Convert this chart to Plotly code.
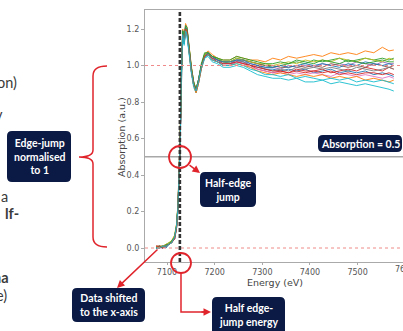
import plotly.graph_objects as go

# ---------------- data ----------------
energy_ev = [7077, 7084, 7091, 7098, 7104, 7110, 7116, 7120, 7123, 7126, 7128, 7130,
             7133, 7136, 7139, 7142, 7146, 7151, 7156, 7161, 7166, 7172, 7179, 7186,
             7195, 7206, 7218, 7232, 7246, 7260, 7275, 7290, 7306, 7322, 7338, 7355,
             7372, 7390, 7408, 7426, 7444, 7462, 7480, 7498, 7516, 7534, 7552, 7566, 7576]

mu_s01 = [0.01, 0.00, 0.01, 0.00, 0.02, 0.03, 0.05, 0.11, 0.21, 0.40, 0.60, 0.93, 1.16, 1.12, 1.19, 1.17, 1.07, 0.97, 0.89, 0.86, 0.92, 1.00, 1.05, 1.07,
          1.04, 1.03, 1.02, 1.01, 1.02, 1.02, 1.00, 0.99, 0.98, 0.98, 0.97, 0.98, 0.97, 0.98, 0.96, 0.97, 0.98, 0.96, 0.97, 0.96, 0.97, 0.95, 0.96, 0.95, 0.94]
mu_s02 = [0.00, 0.01, 0.01, 0.02, 0.02, 0.04, 0.07, 0.13, 0.24, 0.45, 0.66, 0.98, 1.20, 1.16, 1.23, 1.21, 1.10, 1.00, 0.91, 0.85, 0.90, 0.99, 1.06, 1.08,
          1.06, 1.04, 1.03, 1.03, 1.05, 1.04, 1.03, 1.03, 1.02, 1.04, 1.03, 1.05, 1.04, 1.05, 1.06, 1.05, 1.07, 1.06, 1.07, 1.06, 1.08, 1.07, 1.10, 1.08, 1.085]
mu_s03 = [0.01, 0.00, 0.01, 0.01, 0.03, 0.03, 0.06, 0.12, 0.23, 0.43, 0.63, 0.96, 1.19, 1.14, 1.21, 1.20, 1.09, 0.99, 0.91, 0.87, 0.92, 1.00, 1.06, 1.07,
          1.05, 1.04, 1.02, 1.02, 1.04, 1.03, 1.02, 1.01, 1.00, 0.99, 1.00, 1.01, 1.02, 1.01, 1.03, 1.02, 1.03, 1.04, 1.02, 1.03, 1.04, 1.03, 1.04, 1.03, 1.04]
mu_s04 = [0.00, 0.01, 0.00, 0.01, 0.02, 0.03, 0.05, 0.11, 0.22, 0.41, 0.61, 0.94, 1.17, 1.12, 1.19, 1.18, 1.07, 0.97, 0.89, 0.86, 0.91, 0.99, 1.05, 1.06,
          1.03, 1.02, 1.00, 1.00, 1.02, 1.01, 1.00, 0.98, 0.97, 0.96, 0.97, 0.96, 0.98, 0.97, 0.97, 0.98, 0.96, 0.97, 0.98, 0.97, 0.99, 0.98, 0.97, 0.99, 0.98]
mu_s05 = [0.01, 0.01, 0.00, 0.02, 0.02, 0.04, 0.06, 0.12, 0.22, 0.42, 0.63, 0.95, 1.18, 1.13, 1.20, 1.19, 1.08, 0.98, 0.90, 0.86, 0.91, 0.99, 1.05, 1.06,
          1.04, 1.03, 1.01, 1.01, 1.03, 1.02, 1.01, 1.00, 0.99, 0.99, 0.98, 1.00, 0.99, 1.00, 0.99, 1.01, 1.00, 1.01, 1.00, 1.02, 1.01, 1.00, 1.02, 1.01, 1.01]
mu_s06 = [0.00, 0.00, 0.01, 0.01, 0.02, 0.03, 0.06, 0.12, 0.23, 0.43, 0.62, 0.95, 1.18, 1.14, 1.21, 1.19, 1.09, 0.98, 0.90, 0.87, 0.92, 1.00, 1.06, 1.07,
          1.05, 1.03, 1.02, 1.02, 1.03, 1.03, 1.02, 1.01, 1.00, 1.00, 0.99, 0.99, 1.00, 0.99, 1.00, 0.99, 1.01, 1.00, 0.99, 1.00, 0.99, 1.01, 1.00, 0.99, 1.00]
mu_s07 = [0.01, 0.00, 0.00, 0.01, 0.02, 0.03, 0.05, 0.11, 0.21, 0.41, 0.61, 0.94, 1.17, 1.15, 1.22, 1.20, 1.09, 0.97, 0.89, 0.86, 0.90, 0.98, 1.04, 1.06,
          1.03, 1.02, 1.00, 1.00, 1.02, 1.01, 0.99, 0.98, 0.97, 0.96, 0.96, 0.95, 0.96, 0.95, 0.96, 0.95, 0.94, 0.96, 0.95, 0.94, 0.95, 0.94, 0.93, 0.94, 0.93]
mu_s08 = [0.00, 0.01, 0.01, 0.01, 0.02, 0.03, 0.06, 0.12, 0.22, 0.42, 0.62, 0.95, 1.18, 1.13, 1.19, 1.18, 1.08, 0.98, 0.90, 0.87, 0.92, 0.99, 1.05, 1.06,
          1.04, 1.03, 1.01, 1.01, 1.03, 1.02, 1.00, 1.00, 0.98, 0.97, 0.98, 0.97, 0.99, 0.98, 0.99, 0.98, 0.99, 0.98, 0.97, 0.99, 0.98, 0.97, 0.98, 0.99, 0.98]
mu_s09 = [0.01, 0.01, 0.01, 0.02, 0.03, 0.04, 0.07, 0.13, 0.24, 0.44, 0.64, 0.97, 1.19, 1.15, 1.21, 1.20, 1.09, 0.99, 0.91, 0.86, 0.91, 1.00, 1.06, 1.07,
          1.05, 1.04, 1.02, 1.02, 1.04, 1.03, 1.02, 1.01, 1.01, 1.00, 1.01, 1.02, 1.01, 1.03, 1.02, 1.03, 1.02, 1.04, 1.03, 1.02, 1.04, 1.03, 1.02, 1.04, 1.03]
mu_s10 = [0.00, 0.01, 0.00, 0.01, 0.02, 0.03, 0.05, 0.11, 0.21, 0.40, 0.60, 0.93, 1.16, 1.11, 1.18, 1.16, 1.06, 0.96, 0.88, 0.85, 0.90, 0.98, 1.04, 1.05,
          1.02, 1.01, 0.99, 0.99, 1.00, 0.99, 0.97, 0.95, 0.94, 0.93, 0.93, 0.92, 0.93, 0.91, 0.91, 0.92, 0.90, 0.91, 0.90, 0.89, 0.90, 0.89, 0.88, 0.87, 0.86]
mu_s11 = [0.00, 0.00, 0.01, 0.01, 0.02, 0.03, 0.06, 0.12, 0.23, 0.43, 0.63, 0.96, 1.19, 1.14, 1.21, 1.20, 1.09, 0.98, 0.90, 0.86, 0.91, 1.00, 1.05, 1.07,
          1.05, 1.03, 1.02, 1.02, 1.03, 1.03, 1.01, 1.00, 0.99, 0.99, 1.00, 0.99, 1.00, 1.01, 1.00, 1.01, 1.00, 0.99, 1.01, 1.00, 1.02, 1.01, 1.00, 1.01, 1.00]
mu_s12 = [0.01, 0.00, 0.01, 0.01, 0.02, 0.03, 0.06, 0.11, 0.22, 0.41, 0.61, 0.94, 1.17, 1.13, 1.20, 1.18, 1.07, 0.97, 0.89, 0.85, 0.90, 0.98, 1.05, 1.06,
          1.03, 1.02, 1.00, 1.00, 1.01, 1.00, 0.99, 0.97, 0.96, 0.95, 0.96, 0.95, 0.94, 0.95, 0.94, 0.95, 0.93, 0.94, 0.93, 0.94, 0.92, 0.93, 0.92, 0.91, 0.92]
mu_s13 = [0.00, 0.01, 0.00, 0.02, 0.02, 0.04, 0.06, 0.12, 0.23, 0.44, 0.64, 0.97, 1.19, 1.15, 1.22, 1.21, 1.10, 0.99, 0.91, 0.87, 0.92, 1.01, 1.07, 1.07,
          1.05, 1.04, 1.03, 1.03, 1.05, 1.04, 1.03, 1.02, 1.01, 1.01, 1.02, 1.01, 1.03, 1.02, 1.01, 1.03, 1.02, 1.01, 1.03, 1.02, 1.01, 1.02, 1.03, 1.02, 1.02]
mu_s14 = [0.01, 0.01, 0.00, 0.01, 0.02, 0.03, 0.05, 0.11, 0.22, 0.42, 0.62, 0.95, 1.17, 1.13, 1.20, 1.19, 1.08, 0.98, 0.90, 0.86, 0.91, 0.99, 1.05, 1.06,
          1.04, 1.02, 1.01, 1.01, 1.02, 1.01, 1.00, 0.99, 0.98, 0.97, 0.97, 0.96, 0.97, 0.96, 0.97, 0.96, 0.97, 0.95, 0.96, 0.95, 0.96, 0.96, 0.95, 0.96, 0.95]
mu_s15 = [0.00, 0.00, 0.01, 0.01, 0.02, 0.03, 0.06, 0.12, 0.22, 0.41, 0.61, 0.94, 1.17, 1.12, 1.19, 1.17, 1.07, 0.97, 0.89, 0.86, 0.91, 0.99, 1.04, 1.06,
          1.03, 1.02, 1.00, 1.00, 1.01, 1.00, 0.98, 0.97, 0.95, 0.95, 0.94, 0.95, 0.93, 0.94, 0.93, 0.92, 0.93, 0.92, 0.93, 0.91, 0.92, 0.91, 0.92, 0.91, 0.90]

series = [mu_s01, mu_s02, mu_s03, mu_s04, mu_s05, mu_s06, mu_s07, mu_s08,
          mu_s09, mu_s10, mu_s11, mu_s12, mu_s13, mu_s14, mu_s15]
series_colors = ["#1f77b4", "#ff7f0e", "#2ca02c", "#d62728", "#9467bd", "#8c564b",
                 "#e377c2", "#7f7f7f", "#bcbd22", "#17becf", "#1f77b4", "#ff7f0e",
                 "#2ca02c", "#d62728", "#17becf"]

x_ticks = [7100, 7200, 7300, 7400, 7500]
y_ticks = [0.0, 0.2, 0.4, 0.6, 0.8, 1.0, 1.2]
half_edge_energy = 7127
half_jump = 0.5
edge_levels = [0.0, 1.0]

# ---------------- layout helpers ----------------
W, H = 403, 331
L, R, T, B = 145, 403, 10, 262


def fx(x):
    return (x - L) / (R - L)


def fy(y):
    return (B - y) / (B - T)


def rrect(x0, y0, x1, y1, r=5):
    p = [("M", x0 + r, y0), ("L", x1 - r, y0), ("Q", x1, y0, x1, y0 + r),
         ("L", x1, y1 - r), ("Q", x1, y1, x1 - r, y1), ("L", x0 + r, y1),
         ("Q", x0, y1, x0, y1 - r), ("L", x0, y0 + r), ("Q", x0, y0, x0 + r, y0)]
    s = ""
    for seg in p:
        cmd = seg[0]
        coords = seg[1:]
        pts = []
        for i in range(0, len(coords), 2):
            pts.append(f"{fx(coords[i]):.5f},{fy(coords[i+1]):.5f}")
        s += cmd + " " + " ".join(pts) + " "
    return s + "Z"


def path(points):
    return "M " + " L ".join(f"{fx(a):.5f},{fy(b):.5f}" for a, b in points)


fig = go.Figure()
for vals, col in zip(series, series_colors):
    fig.add_trace(go.Scatter(x=energy_ev, y=vals, mode="lines",
                             line=dict(color=col, width=1), opacity=0.9,
                             showlegend=False, hoverinfo="skip"))

NAVY = "#0b1a44"
RED = "#e0242c"
shapes = []
for lev in edge_levels:
    shapes.append(dict(type="line", xref="paper", yref="y", x0=0, x1=1, y0=lev, y1=lev,
                       line=dict(color="#f08a8a", width=1, dash="dot"), layer="above"))
shapes.append(dict(type="line", xref="paper", yref="y", x0=0, x1=1, y0=half_jump, y1=half_jump,
                   line=dict(color="#a8a8a8", width=1.6), layer="above"))
shapes.append(dict(type="line", xref="x", yref="paper", x0=half_edge_energy, x1=half_edge_energy,
                   y0=0, y1=1, line=dict(color="#333333", width=2.6, dash="4px,2px"), layer="above"))

# navy label boxes
boxes = [
    ((7, 131, 71, 182), "Edge-jump<br>normalised<br>to 1", (39, 156.5)),
    ((200, 172, 256, 207), "Half-edge<br>jump", (228, 189.5)),
    ((72, 288, 145, 322), "Data shifted<br>to the x-axis", (108.5, 305)),
    ((212, 297, 285, 336), "Half edge-<br>jump energy", (248.5, 314.5)),
    ((318, 135, 402, 152), "Absorption = 0.5", (360, 143.5)),
]
for (x0, y0, x1, y1), _, _ in boxes:
    shapes.append(dict(type="path", xref="paper", yref="paper", path=rrect(x0, y0, x1, y1, 5),
                       fillcolor=NAVY, line=dict(width=0), layer="above"))

# red circles
for cx, cy, r in [(180, 157, 11), (181, 263, 10)]:
    shapes.append(dict(type="circle", xref="paper", yref="paper",
                       x0=fx(cx - r), x1=fx(cx + r), y0=fy(cy + r), y1=fy(cy - r),
                       line=dict(color=RED, width=1.8), layer="above"))

# curly brace
brace = ("M {a} Q {b} {c} L {d} Q {e} {f} Q {g} {h} L {i} Q {j} {k}").format(
    a=f"{fx(107):.5f},{fy(66):.5f}", b=f"{fx(93):.5f},{fy(66):.5f}", c=f"{fx(93):.5f},{fy(76):.5f}",
    d=f"{fx(93):.5f},{fy(150):.5f}", e=f"{fx(93):.5f},{fy(157):.5f}", f=f"{fx(79):.5f},{fy(157):.5f}",
    g=f"{fx(93):.5f},{fy(157):.5f}", h=f"{fx(93):.5f},{fy(164):.5f}", i=f"{fx(93):.5f},{fy(237):.5f}",
    j=f"{fx(93):.5f},{fy(247):.5f}", k=f"{fx(107):.5f},{fy(247):.5f}")
shapes.append(dict(type="path", xref="paper", yref="paper", path=brace,
                   line=dict(color=RED, width=1.5), layer="above"))
# elbow connector from lower circle
shapes.append(dict(type="path", xref="paper", yref="paper", path=path([(181, 273), (181, 312), (205, 312)]),
                   line=dict(color=RED, width=1.5), layer="above"))

annotations = []
for (_, txt, (cx, cy)) in boxes:
    annotations.append(dict(xref="paper", yref="paper", x=fx(cx), y=fy(cy), text=txt,
                            showarrow=False, xanchor="center", yanchor="middle", align="center",
                            font=dict(family="Lato", size=10.5, color="white", weight="bold")))

# arrows (head, tail) in pixels
for (hx, hy), (tx, ty) in [((200, 173), (188, 164)), ((211, 312), (200, 312)), ((117, 288), (159, 248))]:
    annotations.append(dict(xref="paper", yref="paper", x=fx(hx), y=fy(hy), text="",
                            showarrow=True, ax=tx - hx, ay=ty - hy, arrowhead=2, arrowsize=1,
                            arrowwidth=1.5, arrowcolor=RED, standoff=0, startstandoff=0))

# slide text fragments cut off at the left
for txt, xr, cy, bold in [("on)", 19, 83, False), ("y", 5, 114, False), ("a", 10, 196, False),
                          ("lf-", 21, 213, True), ("na", 11, 277, True), ("e)", 9, 295, False)]:
    annotations.append(dict(xref="paper", yref="paper", x=fx(xr), y=fy(cy), text=txt,
                            showarrow=False, xanchor="right", yanchor="middle",
                            font=dict(family="Lato", size=14.5, color="#3a3a3a",
                                      weight="bold" if bold else "normal")))

# axis titles and cut tick label
annotations.append(dict(xref="paper", yref="paper", x=fx(274.5), y=fy(282), text="Energy (eV)",
                        showarrow=False, xanchor="center", yanchor="middle",
                        font=dict(family="DejaVu Sans", size=9.5, color="#444")))
annotations.append(dict(xref="paper", yref="paper", x=fx(121), y=fy(137), text="Absorption (a.u.)",
                        showarrow=False, xanchor="center", yanchor="middle", textangle=-90,
                        font=dict(family="DejaVu Sans", size=9.5, color="#444")))
annotations.append(dict(xref="paper", yref="paper", x=fx(405), y=fy(269), text="7600",
                        showarrow=False, xanchor="center", yanchor="middle",
                        font=dict(family="DejaVu Sans", size=8, color="#555")))

x_per_px = 100 / 47.65
y_per_px = 1 / 182.5
fig.update_layout(
    width=W, height=H, autosize=False,
    margin=dict(l=L, r=W - R, t=T, b=H - B, pad=0),
    paper_bgcolor="white", plot_bgcolor="white",
    shapes=shapes, annotations=annotations,
    xaxis=dict(range=[7100 - (167 - L) * x_per_px, 7100 + (R - 167) * x_per_px],
               tickvals=x_ticks, ticks="outside", ticklen=2, tickcolor="#aaa",
               showline=True, linecolor="#aaa", linewidth=1.2, mirror=True,
               showgrid=False, zeroline=False,
               tickfont=dict(family="DejaVu Sans", size=8, color="#555")),
    yaxis=dict(range=[-(B - 248) * y_per_px, (248 - T) * y_per_px],
               tickvals=y_ticks, tickformat=".1f", ticks="outside", ticklen=3, tickcolor="#aaa",
               showline=True, linecolor="#aaa", linewidth=1.2, mirror=True,
               showgrid=False, zeroline=False,
               tickfont=dict(family="DejaVu Sans", size=8, color="#555")),
)

fig.write_html("out.html", config={"displayModeBar": False},
               post_script="document.body.style.margin='0';document.body.style.overflow='hidden';")
